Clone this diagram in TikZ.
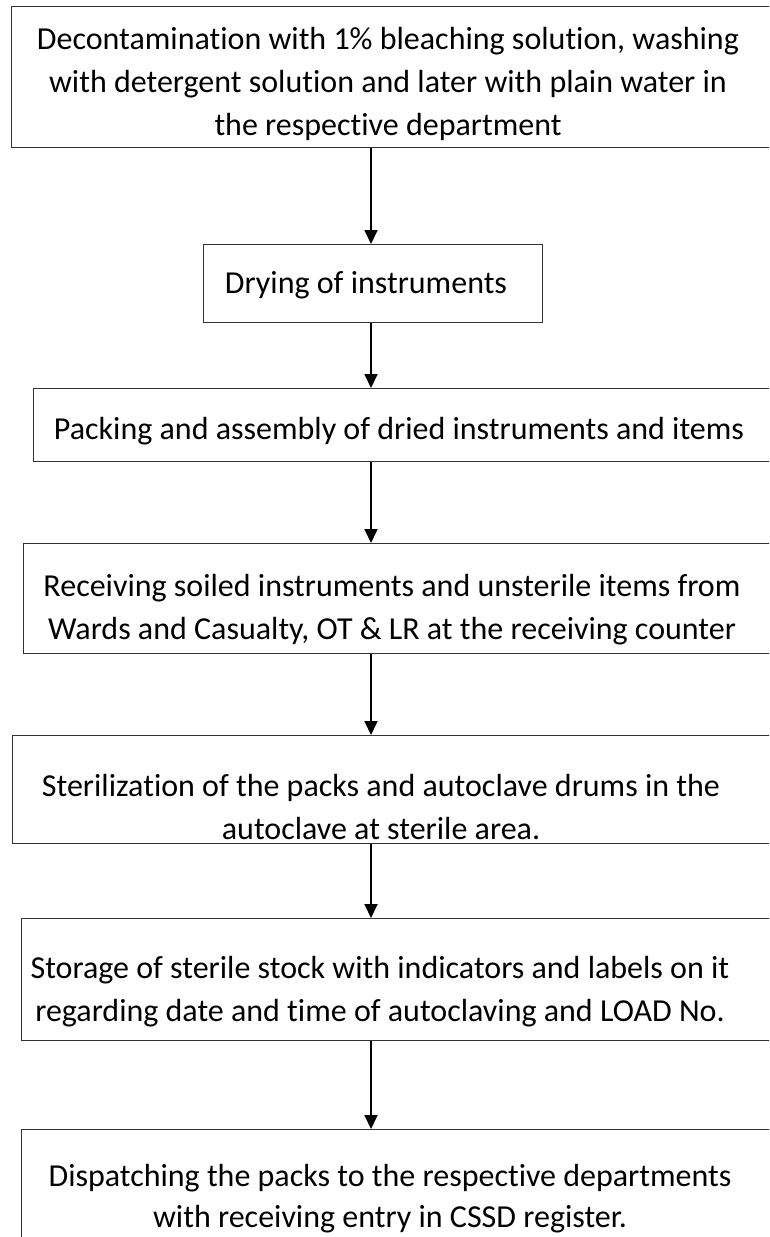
\documentclass[tikz,border=0pt]{standalone}
\usepackage{fontspec}
\setmainfont{Carlito}[Ligatures={NoCommon}]
\usetikzlibrary{arrows.meta}
\tikzset{
  stepbox/.style={draw=black!80, line width=1.2pt, anchor=north west, inner sep=0pt},
  steptext/.style={align=center, inner sep=0pt, font=\fontsize{32}{43}\selectfont},
  flow/.style={line width=1.8pt, -{Triangle[length=14pt,width=13pt]}}
}
\begin{document}
\begin{tikzpicture}[x=1pt,y=-1pt]
\useasboundingbox (0,0) rectangle (769,1237);
\clip (0,0) rectangle (769,1237);
\coordinate (ax) at (371,0);

\node[stepbox, minimum width=780pt, minimum height=141pt] (b1) at (11,6) {};
\node[stepbox, minimum width=339pt, minimum height=78pt] (b2) at (203,244) {};
\node[stepbox, minimum width=760pt, minimum height=73pt] (b3) at (33,388) {};
\node[stepbox, minimum width=770pt, minimum height=110pt] (b4) at (23,543) {};
\node[stepbox, minimum width=780pt, minimum height=108pt] (b5) at (12,735) {};
\node[stepbox, minimum width=770pt, minimum height=122pt] (b6) at (21,918) {};
\node[stepbox, minimum width=770pt, minimum height=151pt] (b7) at (21,1129) {};

\node[steptext] (t1) at (388,84) {Decontamination with 1\% bleaching solution, washing\\with detergent solution and later with plain water in\\the respective department};
\node[steptext] (t2) at (366,285) {Drying of instruments};
\node[steptext] (t3) at (399,431) {Packing and assembly of dried instruments and items};
\node[steptext] (t4) at (392,610) {Receiving soiled instruments and unsterile items from\\Wards and Casualty, OT \& LR at the receiving counter};
\node[steptext] (t5) at (381,807) {Sterilization of the packs and autoclave drums in the\\autoclave at sterile area.};
\node[steptext] (t6) at (380,992) {Storage of sterile stock with indicators and labels on it\\regarding date and time of autoclaving and LOAD No.};
\node[steptext, font=\fontsize{32}{41}\selectfont] (t7) at (390,1199) {Dispatching the packs to the respective departments\\with receiving entry in CSSD register.};

\draw[flow] (b1.south -| ax) -- (b2.north -| ax);
\draw[flow] (b2.south -| ax) -- (b3.north -| ax);
\draw[flow] (b3.south -| ax) -- (b4.north -| ax);
\draw[flow] (b4.south -| ax) -- (b5.north -| ax);
\draw[flow] (b5.south -| ax) -- (b6.north -| ax);
\draw[flow] (b6.south -| ax) -- (b7.north -| ax);
\end{tikzpicture}
\end{document}
